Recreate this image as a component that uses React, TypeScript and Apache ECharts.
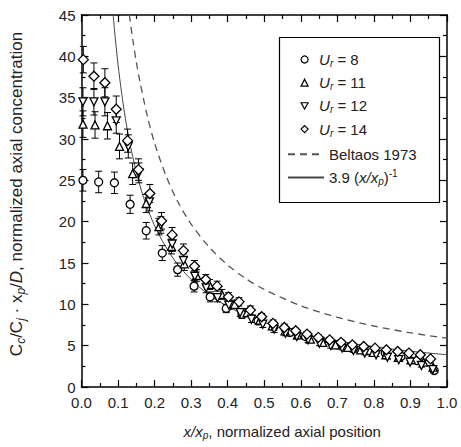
import React, { useEffect, useRef } from 'react';
import * as echarts from 'echarts';

// ---- data ----
const ur8X = [0.004, 0.047, 0.090, 0.133, 0.177, 0.221, 0.263, 0.308, 0.352, 0.396, 0.439, 0.483, 0.526, 0.570, 0.613, 0.657, 0.700, 0.744, 0.787, 0.831, 0.874, 0.918, 0.965];
const ur8Y = [25.0, 24.8, 24.7, 22.1, 18.9, 16.2, 14.2, 12.2, 10.9, 9.5, 8.8, 8.0, 7.3, 6.6, 6.1, 5.6, 5.1, 4.7, 4.4, 4.1, 3.7, 3.2, 2.0];
const ur8E = [1.3, 1.3, 1.3, 1.1, 1.0, 0.9, 0.8, 0.7, 0.6, 0.5, 0.5, 0.4, 0.4, 0.4, 0.3, 0.3, 0.3, 0.3, 0.2, 0.2, 0.2, 0.2, 0.2];

const ur11X = [0.004, 0.037, 0.071, 0.104, 0.140, 0.177, 0.212, 0.246, 0.281, 0.315, 0.350, 0.384, 0.419, 0.453, 0.488, 0.522, 0.557, 0.591, 0.626, 0.660, 0.695, 0.729, 0.764, 0.798, 0.833, 0.867, 0.902, 0.936, 0.962];
const ur11Y = [31.8, 31.7, 31.6, 29.1, 25.8, 22.2, 19.4, 17.0, 14.9, 13.5, 12.4, 11.2, 10.0, 9.0, 8.1, 7.4, 6.8, 6.3, 5.8, 5.4, 5.1, 4.8, 4.5, 4.2, 3.9, 3.6, 3.3, 3.0, 2.4];
const ur11E = [1.6, 1.6, 1.6, 1.5, 1.3, 1.1, 1.0, 0.9, 0.8, 0.7, 0.6, 0.6, 0.5, 0.5, 0.4, 0.4, 0.4, 0.3, 0.3, 0.3, 0.3, 0.3, 0.2, 0.2, 0.2, 0.2, 0.2, 0.2, 0.2];

const ur12X = [0.004, 0.034, 0.064, 0.095, 0.128, 0.157, 0.186, 0.217, 0.248, 0.279, 0.310, 0.341, 0.372, 0.403, 0.434, 0.465, 0.496, 0.527, 0.558, 0.589, 0.620, 0.651, 0.682, 0.713, 0.744, 0.775, 0.806, 0.837, 0.868, 0.899, 0.930, 0.961];
const ur12Y = [34.5, 34.5, 34.5, 32.2, 29.1, 25.9, 22.4, 19.6, 17.3, 15.3, 13.4, 12.0, 10.8, 9.9, 9.0, 8.2, 7.6, 7.0, 6.5, 6.1, 5.7, 5.3, 5.0, 4.7, 4.4, 4.1, 3.9, 3.6, 3.3, 3.0, 2.6, 2.1];
const ur12E = [1.7, 1.6, 1.7, 1.5, 1.4, 1.2, 1.1, 1.0, 0.9, 0.8, 0.7, 0.6, 0.5, 0.5, 0.5, 0.4, 0.4, 0.4, 0.3, 0.3, 0.3, 0.3, 0.3, 0.2, 0.2, 0.2, 0.2, 0.2, 0.2, 0.2, 0.2, 0.2];

const ur14X = [0.005, 0.034, 0.064, 0.095, 0.126, 0.156, 0.187, 0.219, 0.248, 0.279, 0.309, 0.340, 0.371, 0.402, 0.431, 0.462, 0.493, 0.524, 0.555, 0.586, 0.617, 0.648, 0.679, 0.710, 0.741, 0.772, 0.803, 0.834, 0.865, 0.896, 0.927, 0.955];
const ur14Y = [39.6, 37.6, 36.8, 33.6, 29.8, 26.3, 23.4, 20.1, 18.4, 16.5, 14.6, 13.0, 12.2, 10.9, 10.3, 9.3, 8.5, 7.7, 7.2, 6.8, 6.4, 6.0, 5.7, 5.4, 5.1, 4.9, 4.7, 4.5, 4.3, 4.1, 3.9, 3.4];
const ur14E = [1.6, 1.6, 1.7, 1.6, 1.4, 1.3, 1.1, 1.0, 0.9, 0.8, 0.7, 0.6, 0.6, 0.5, 0.5, 0.5, 0.4, 0.4, 0.4, 0.3, 0.3, 0.3, 0.3, 0.3, 0.3, 0.2, 0.2, 0.2, 0.2, 0.2, 0.2, 0.2];

// 3.9 (x/xp)^-1 curve
const fitX = [0.0867, 0.09, 0.1, 0.11, 0.12, 0.13, 0.14, 0.15, 0.17, 0.2, 0.23, 0.26, 0.3, 0.35, 0.4, 0.45, 0.5, 0.6, 0.7, 0.8, 0.9, 1.0];
const fitY = [45.0, 43.3, 39.0, 35.5, 32.5, 30.0, 27.9, 26.0, 22.9, 19.5, 17.0, 15.0, 13.0, 11.1, 9.75, 8.67, 7.8, 6.5, 5.57, 4.88, 4.33, 3.9];

// Beltaos 1973 curve
const beltX = [0.131, 0.14, 0.15, 0.16, 0.18, 0.2, 0.23, 0.26, 0.3, 0.35, 0.4, 0.45, 0.5, 0.6, 0.7, 0.8, 0.9, 1.0];
const beltY = [45.0, 42.1, 39.3, 36.9, 32.8, 29.5, 25.7, 22.7, 19.7, 16.9, 14.75, 13.1, 11.8, 9.83, 8.43, 7.38, 6.56, 5.9];

const xTicks = { min: 0, max: 1, interval: 0.1 };
const yTicks = { min: 0, max: 45, interval: 5 };

const FONT = "'Liberation Sans', Arial, sans-serif";
const TXT = '#222';

const richFor = (size: number, lh: number) => ({
  n: { fontSize: size, fontFamily: FONT, color: TXT, lineHeight: lh },
  i: { fontSize: size, fontFamily: FONT, color: TXT, lineHeight: lh, fontStyle: 'italic' },
  s: { fontSize: Math.round(size * 0.68), fontFamily: FONT, color: TXT, lineHeight: Math.round(size * 0.55), verticalAlign: 'bottom', fontStyle: 'italic' },
  su: { fontSize: Math.round(size * 0.68), fontFamily: FONT, color: TXT, lineHeight: Math.round(size * 0.6), verticalAlign: 'top' },
  g: { fontSize: size, lineHeight: lh, width: 6 },
});

const legendLabels: Record<string, string> = {
  'Ur = 8': '{g|\u00a0}{i|U}{s|r}{n| = 8}',
  'Ur = 11': '{g|\u00a0}{i|U}{s|r}{n| = 11}',
  'Ur = 12': '{g|\u00a0}{i|U}{s|r}{n| = 12}',
  'Ur = 14': '{g|\u00a0}{i|U}{s|r}{n| = 14}',
  'Beltaos 1973': '{n|Beltaos 1973}',
  fit: '{n|3.9 (}{i|x/x}{s|p}{n|)}{su|-1}',
};

const downTri = 'path://M0,0 L10,0 L5,9 Z';

function errSeries(name: string, xs: number[], ys: number[], es: number[]) {
  return {
    type: 'custom',
    name,
    xAxisIndex: 0,
    yAxisIndex: 0,
    encode: { x: 0, y: [1, 2] },
    data: xs.map((x, i) => [x, ys[i] - es[i], ys[i] + es[i]]),
    z: 2,
    silent: true,
    renderItem: (_p: any, api: any) => {
      const x = api.value(0);
      const top = api.coord([x, api.value(2)]);
      const bot = api.coord([x, api.value(1)]);
      const hw = 3.5;
      const st = { stroke: '#000', lineWidth: 1 };
      return {
        type: 'group',
        children: [
          { type: 'line', shape: { x1: top[0], y1: top[1], x2: bot[0], y2: bot[1] }, style: st },
          { type: 'line', shape: { x1: top[0] - hw, y1: top[1], x2: top[0] + hw, y2: top[1] }, style: st },
          { type: 'line', shape: { x1: bot[0] - hw, y1: bot[1], x2: bot[0] + hw, y2: bot[1] }, style: st },
        ],
      };
    },
  };
}

function markSeries(name: string, xs: number[], ys: number[], symbol: string, size: number) {
  return {
    type: 'scatter',
    name,
    data: xs.map((x, i) => [x, ys[i]]),
    symbol,
    symbolSize: size,
    z: 3,
    itemStyle: { color: '#fff', borderColor: '#000', borderWidth: 1.3, opacity: 1 },
  };
}

export default function App() {
  const ref = useRef<HTMLDivElement>(null);
  useEffect(() => {
    const chart = echarts.init(ref.current!, null, { renderer: 'svg' });
    const axisCommon = {
      type: 'value',
      axisLine: { show: true, onZero: false, lineStyle: { color: '#000', width: 1.5 } },
      axisTick: { show: true, inside: true, length: 7, lineStyle: { color: '#000', width: 1.2 } },
      minorTick: { show: true, splitNumber: 2, length: 4, lineStyle: { color: '#000', width: 1.2 } },
      splitLine: { show: false },
    };
    const labelStyle = { fontSize: 15, fontFamily: FONT, color: TXT, lineHeight: 12 };
    const option: any = {
      animation: false,
      backgroundColor: '#fff',
      grid: { left: 70, top: 15, right: 14, bottom: 60 },
      xAxis: [
        {
          ...axisCommon,
          ...xTicks,
          position: 'bottom',
          axisLabel: { ...labelStyle, margin: 9, formatter: (v: number) => v.toFixed(1) },
          name: '{i|x/x}{s|p}{n|, normalized axial position}',
          nameLocation: 'middle',
          nameGap: 35,
          nameTextStyle: { rich: richFor(15, 18), padding: [0, 0, 0, 36] },
        },
        {
          ...axisCommon,
          ...xTicks,
          position: 'top',
          axisLabel: { show: false },
        },
      ],
      yAxis: [
        {
          ...axisCommon,
          ...yTicks,
          position: 'left',
          axisLabel: { ...labelStyle, margin: 6 },
          name: '{n|C}{s|c}{n|/C}{s|j}{n| · x}{s|p}{n|/}{i|D}{n|, normalized axial concentration}',
          nameLocation: 'middle',
          nameRotate: 90,
          nameGap: 55,
          nameTextStyle: { rich: richFor(17, 20), padding: [0, 0, 0, 14] },
        },
        {
          ...axisCommon,
          ...yTicks,
          position: 'right',
          axisLabel: { show: false },
        },
      ],
      legend: [
        {
          orient: 'vertical',
          left: 300.5,
          top: 52,
          padding: 0,
          itemWidth: 7,
          itemHeight: 7,
          itemGap: 6.7,
          selectedMode: false,
          data: ['Ur = 8', 'Ur = 11', 'Ur = 12', 'Ur = 14'],
          formatter: (n: string) => legendLabels[n],
          itemStyle: { color: '#fff', borderColor: '#000', borderWidth: 1.2 },
          textStyle: { rich: richFor(15, 18) },
        },
        {
          orient: 'vertical',
          left: 287,
          top: 146.7,
          padding: 0,
          itemWidth: 36,
          itemHeight: 7,
          itemGap: 6.7,
          selectedMode: false,
          data: ['Beltaos 1973', 'fit'],
          formatter: (n: string) => legendLabels[n],
          itemStyle: { color: 'transparent', borderColor: 'transparent', borderWidth: 0, opacity: 0 },
          textStyle: { rich: richFor(15, 18) },
        },
      ],
      graphic: [
        {
          type: 'rect',
          z: 1,
          shape: { x: 279.5, y: 37.5, width: 160, height: 165 },
          style: { fill: 'transparent', stroke: '#000', lineWidth: 1.2 },
        },
      ],
      series: [
        {
          type: 'line',
          name: 'Beltaos 1973',
          data: beltX.map((x, i) => [x, beltY[i]]),
          smooth: 0.3,
          symbol: 'none',
          clip: true,
          z: 1,
          lineStyle: { color: '#555', width: 1.3, type: [7, 5] },
          itemStyle: { color: '#555' },
        },
        {
          type: 'line',
          name: 'fit',
          data: fitX.map((x, i) => [x, fitY[i]]),
          smooth: 0.3,
          symbol: 'none',
          clip: true,
          z: 1,
          lineStyle: { color: '#444', width: 1 },
          itemStyle: { color: '#444' },
        },
        errSeries('e8', ur8X, ur8Y, ur8E),
        errSeries('e11', ur11X, ur11Y, ur11E),
        errSeries('e12', ur12X, ur12Y, ur12E),
        errSeries('e14', ur14X, ur14Y, ur14E),
        markSeries('Ur = 8', ur8X, ur8Y, 'circle', 8),
        markSeries('Ur = 11', ur11X, ur11Y, 'triangle', 8),
        markSeries('Ur = 12', ur12X, ur12Y, downTri, 8),
        markSeries('Ur = 14', ur14X, ur14Y, 'diamond', 10),
      ],
    };
    chart.setOption(option);
    return () => chart.dispose();
  }, []);
  return <div ref={ref} style={{ position: 'fixed', left: 0, top: 0, width: 461, height: 447 }} />;
}
